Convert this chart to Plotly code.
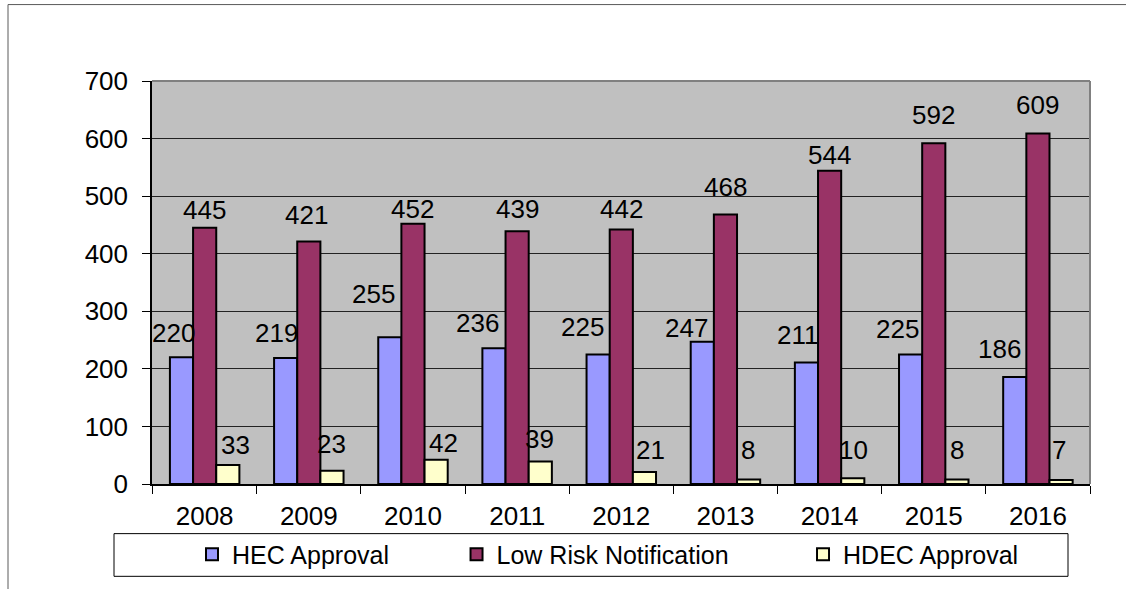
import plotly.graph_objects as go

# Data
YEARS = ["2008", "2009", "2010", "2011", "2012", "2013", "2014", "2015", "2016"]
HEC_APPROVAL = [220, 219, 255, 236, 225, 247, 211, 225, 186]
LOW_RISK_NOTIFICATION = [445, 421, 452, 439, 442, 468, 544, 592, 609]
HDEC_APPROVAL = [33, 23, 42, 39, 21, 8, 10, 8, 7]

# Value-label nudges (pixels): horizontal shift and gap between bar top and text baseline
HEC_LABEL_DX = [-8, -9, -16, -16, -16, -16, -9, -13, -15]
HEC_LABEL_GAP = [14, 15, 33, 15, 17, 4, 18, 15, 18]
LRN_LABEL_DX = [0, -2, 0, 0, 0, 0, 0, 0, 0]
LRN_LABEL_GAP = [8, 17, 5, 12, 11, 18, 6, 18, 18]
HDEC_LABEL_DX = [8, 0, 7, -1, 6, -1, 1, 0, -2]
HDEC_LABEL_GAP = [10, 17, 7, 13, 12, 19, 18, 19, 20]

FONT = "Liberation Sans, Arial, sans-serif"
FS = 26
LEGEND_FS = 25
BARGAP = 0.333
DESCENT = 5  # baseline height above the bottom of a text box

series = [
    ("HEC Approval", HEC_APPROVAL, "#9999FF", HEC_LABEL_DX, HEC_LABEL_GAP, -1),
    ("Low Risk Notification", LOW_RISK_NOTIFICATION, "#993366", LRN_LABEL_DX, LRN_LABEL_GAP, 0),
    ("HDEC Approval", HDEC_APPROVAL, "#FFFFCC", HDEC_LABEL_DX, HDEC_LABEL_GAP, 1),
]

# trailing non-breaking spaces widen legend entries
legend_pad = [9, 10, 0]

fig = go.Figure()
annotations = []
bar_w = (1 - BARGAP) / 3
for k, (name, vals, color, dxs, gaps, slot) in enumerate(series):
    fig.add_trace(go.Bar(
        x=YEARS, y=vals,
        name=name + "\u00a0" * legend_pad[k],
        marker=dict(color=color, line=dict(color="black", width=2)),
        hoverinfo="x+y",
    ))
    for i, v in enumerate(vals):
        annotations.append(dict(
            x=i + slot * bar_w, y=v, xref="x", yref="y",
            text=str(v), showarrow=False,
            xanchor="center", yanchor="bottom",
            xshift=dxs[i], yshift=gaps[i] - DESCENT,
            borderpad=0, borderwidth=0,
            font=dict(family=FONT, size=FS, color="black"),
        ))

L, R, T, B = 152, 36, 81, 102
W, H = 1126, 589
pw, ph = W - L - R, H - T - B


def px(x):
    return (x - L) / pw


def py(y):
    return (H - B - y) / ph


shapes = [
    # outer chart frame
    dict(type="rect", xref="paper", yref="paper",
         x0=px(8), x1=px(1140), y0=py(600), y1=py(4),
         line=dict(color="#5a5a5a", width=1), layer="below"),
    # plot area edge, top and right
    dict(type="line", xref="paper", yref="paper", x0=0, x1=1, y0=1, y1=1,
         line=dict(color="#808080", width=2)),
    dict(type="line", xref="paper", yref="paper", x0=1, x1=1, y0=0, y1=1,
         line=dict(color="#808080", width=2)),
    # legend frame
    dict(type="rect", xref="paper", yref="paper",
         x0=px(114), x1=px(1068), y0=py(580), y1=py(537),
         line=dict(color="black", width=1)),
]

fig.update_layout(
    width=W, height=H,
    margin=dict(l=L, r=R, t=T, b=B),
    paper_bgcolor="white",
    plot_bgcolor="#C0C0C0",
    barmode="group", bargap=BARGAP, bargroupgap=0,
    font=dict(family=FONT, size=FS, color="black"),
    showlegend=True,
    legend=dict(
        orientation="h", x=px(192), xanchor="left",
        y=py(558), yanchor="middle",
        bgcolor="rgba(0,0,0,0)", borderwidth=0,
        font=dict(family=FONT, size=LEGEND_FS, color="black"),
    ),
    xaxis=dict(
        type="category", showgrid=False,
        showline=True, linecolor="black", linewidth=1.5,
        ticks="outside", tickson="boundaries", ticklen=8,
        tickcolor="black", tickwidth=1,
        tickfont=dict(family=FONT, size=FS, color="black"),
        ticklabelstandoff=8,
    ),
    yaxis=dict(
        range=[0, 700], dtick=100,
        showgrid=True, gridcolor="#222222", gridwidth=1,
        zeroline=False,
        showline=True, linecolor="black", linewidth=1.5,
        ticks="outside", ticklen=8, tickcolor="black", tickwidth=1,
        tickfont=dict(family=FONT, size=FS, color="black"),
        ticklabelstandoff=9,
    ),
    shapes=shapes,
    annotations=annotations,
)

fig.write_html("out.html")
